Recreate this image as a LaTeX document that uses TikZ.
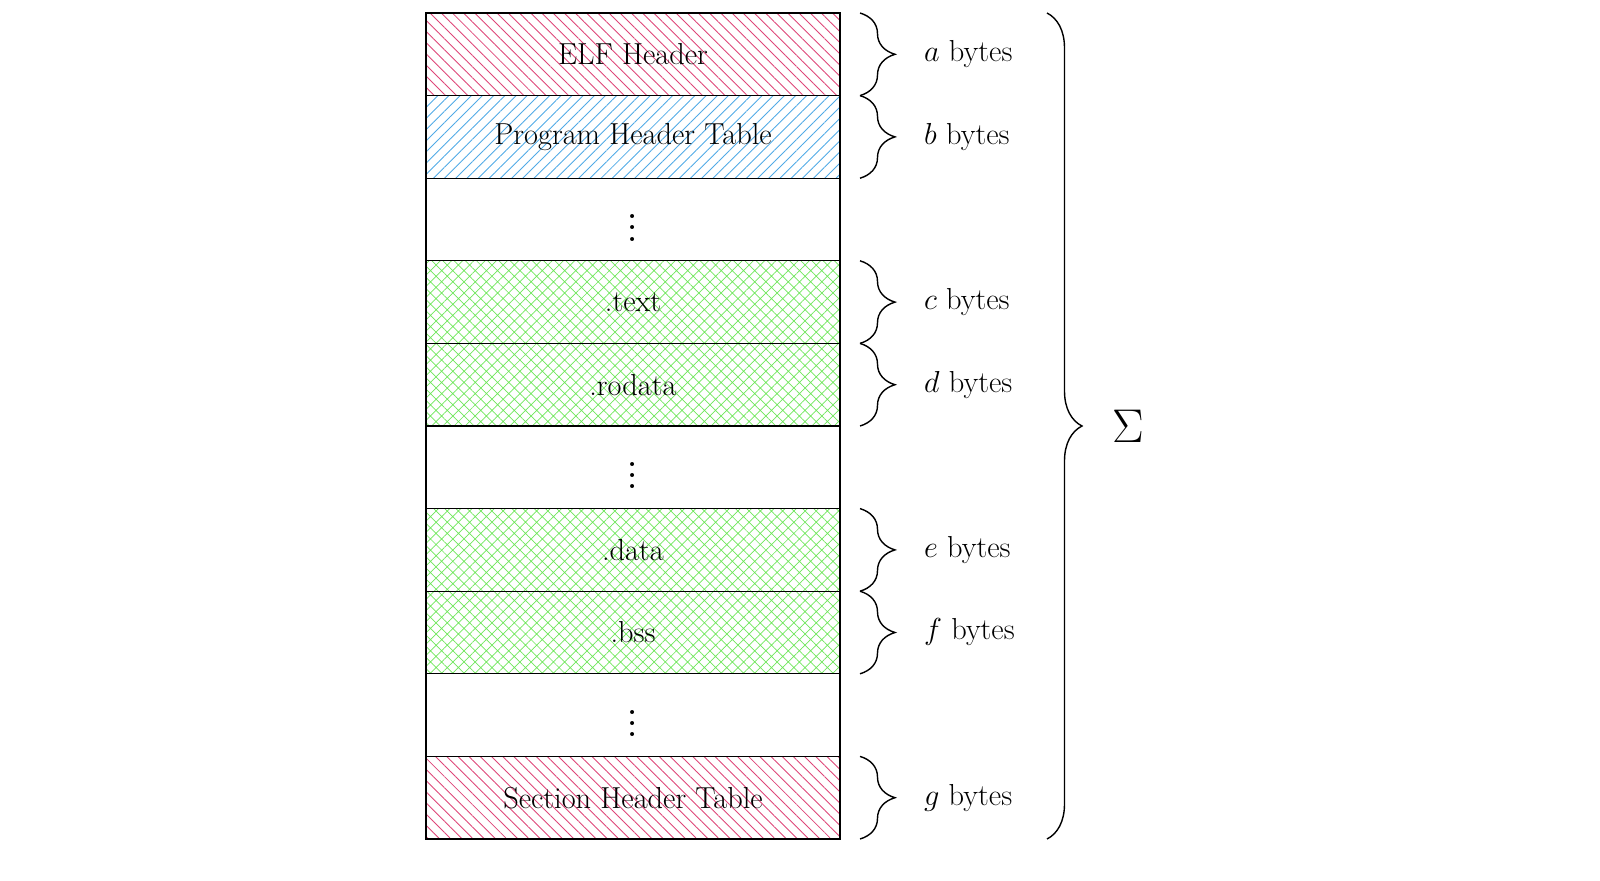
\documentclass[tikz,border=0pt]{standalone}
\usetikzlibrary{patterns.meta,decorations.pathreplacing,calc}
\definecolor{hred}{RGB}{222,70,120}
\definecolor{hblue}{RGB}{80,170,230}
\definecolor{hgreen}{RGB}{110,230,90}
\newcommand{\bigvdots}{\scalebox{1.6}{$\vdots$}}
\begin{document}
\begin{tikzpicture}[x=0.02cm,y=-0.02cm,font=\LARGE,
  cell/.style={draw,line width=0.7pt},
  red/.style={pattern={Lines[angle=-45,distance=4.5pt,line width=0.5pt]},pattern color=hred},
  blue/.style={pattern={Lines[angle=45,distance=4.5pt,line width=0.5pt]},pattern color=hblue},
  green/.style={pattern={Hatch[angle=45,distance=4.5pt,line width=0.4pt]},pattern color=hgreen},
  br/.style={decorate,decoration={brace,amplitude=0.7cm},line width=0.8pt}]
\useasboundingbox (0,0) rectangle (1600,880);
\def\rows{{13,95.6,178.2,260.8,343.4,426,508.6,591.2,673.8,756.4,839}}
\foreach \i/\st/\t in {0/red/ELF Header,1/blue/Program Header Table,2//\bigvdots,3/green/.text,4/green/.rodata,5//\bigvdots,6/green/.data,7/green/.bss,8//\bigvdots,9/red/Section Header Table}{
  \pgfmathsetmacro\ya{\rows[\i]}
  \pgfmathsetmacro\yb{\rows[\i+1]}
  \ifx\st\empty
    \draw[cell] (426,\ya) rectangle (840,\yb);
  \else
    \draw[cell,\st] (426,\ya) rectangle (840,\yb);
  \fi
  \node (r\i) at (633,{(\ya+\yb)/2}) {\t};
  \coordinate (t\i) at (860,\ya);
  \coordinate (b\i) at (860,\yb);
}
\foreach \i/\l in {0/a,1/b,3/c,4/d,6/e,7/f,9/g}{
  \draw[br] (t\i) -- (b\i);
  \node[anchor=west] (l\i) at ($(t\i)!0.5!(b\i)+(58,0)$) {$\l$ bytes};
}
\coordinate (T) at (1047,13);
\coordinate (B) at (1047,839);
\draw[br] (T) -- (B);
\node (s) at (1128,426) {\scalebox{1.3}{\huge$\Sigma$}};
\end{tikzpicture}
\end{document}
